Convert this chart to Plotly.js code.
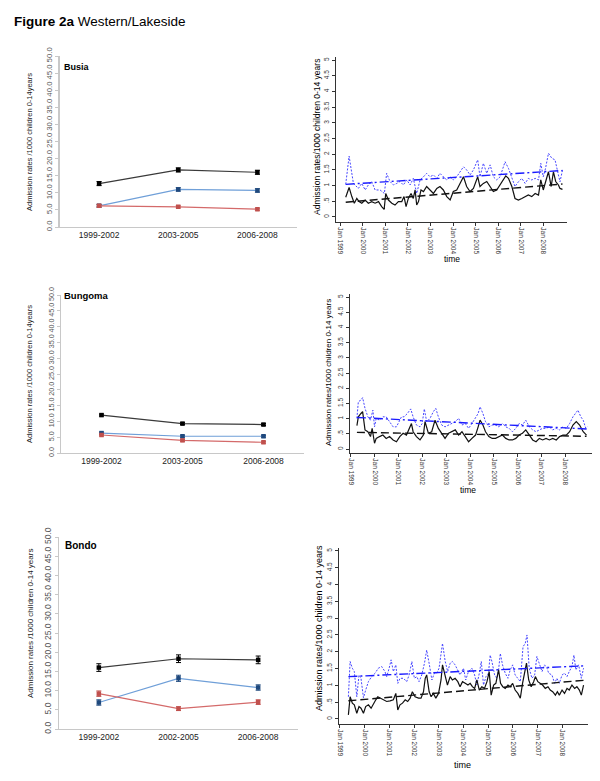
<!DOCTYPE html>
<html>
<head>
<meta charset="utf-8">
<script src="https://cdn.plot.ly/plotly-3.0.1.min.js"></script>
<style>html,body{margin:0;padding:0;background:#fff}#chart{width:600px;height:781px}</style>
</head>
<body>
<div id="chart"></div>
<script>
// ---------- period panels (left) ----------
const periodsA = ["1999-2002", "2003-2005", "2006-2008"];
const periodsBondo = ["1999-2002", "2002-2005", "2006-2008"];

const busiaBlack = [12.7, 16.7, 16.0];
const busiaBlackErr = [0.6, 0.6, 0.6];
const busiaBlue = [6.2, 11.0, 10.7];
const busiaBlueErr = [0.4, 0.5, 0.5];
const busiaRed = [6.2, 5.9, 5.2];
const busiaRedErr = [0.3, 0.3, 0.3];

const bungomaBlack = [12.0, 9.3, 9.0];
const bungomaBlackErr = [0.3, 0.3, 0.3];
const bungomaBlue = [6.3, 5.3, 5.3];
const bungomaBlueErr = [0.3, 0.3, 0.3];
const bungomaRed = [5.7, 4.0, 3.4];
const bungomaRedErr = [0.3, 0.3, 0.3];

const bondoBlack = [16.0, 18.3, 18.0];
const bondoBlackErr = [1.0, 1.0, 1.0];
const bondoBlue = [6.9, 13.2, 10.8];
const bondoBlueErr = [0.7, 0.8, 0.7];
const bondoRed = [9.2, 5.3, 7.0];
const bondoRedErr = [0.7, 0.5, 0.6];

// ---------- monthly time series (right), x in decimal years ----------
const busiaBlackT = [1999.25,1999.40,1999.52,1999.63,1999.74,1999.84,1999.96,2000.11,2000.25,2000.40,2000.55,2000.70,2000.84,2000.95,2001.02,2001.14,2001.29,2001.43,2001.58,2001.73,2001.83,2001.92,2002.02,2002.14,2002.24,2002.32,2002.39,2002.47,2002.58,2002.69,2002.83,2002.98,2003.13,2003.28,2003.42,2003.57,2003.72,2003.87,2004.01,2004.16,2004.31,2004.46,2004.60,2004.75,2004.90,2005.09,2005.19,2005.34,2005.49,2005.64,2005.78,2005.93,2006.08,2006.23,2006.33,2006.45,2006.60,2006.74,2006.89,2007.04,2007.19,2007.33,2007.48,2007.63,2007.78,2007.88,2007.99,2008.09,2008.22,2008.34,2008.44,2008.54,2008.66,2008.73,2008.84];
const busiaBlackV = [0.63,0.94,0.65,0.44,0.59,0.49,0.44,0.54,0.44,0.49,0.44,0.49,0.33,0.24,0.75,0.54,0.44,0.38,0.49,0.49,0.65,0.33,0.59,0.75,0.59,0.86,0.38,0.49,0.86,0.81,0.97,0.86,0.75,0.91,0.97,0.86,0.65,0.54,0.81,0.86,1.07,1.28,0.97,0.81,0.91,1.28,0.97,1.07,1.13,0.97,0.81,0.86,1.02,1.18,1.31,1.23,0.97,0.59,0.54,0.59,0.65,0.70,0.65,0.75,0.70,1.18,0.86,1.13,1.44,0.97,1.44,1.13,1.02,0.91,0.88];
const busiaBlueT = [1999.25,1999.40,1999.59,1999.81,1999.96,2000.11,2000.25,2000.40,2000.55,2000.77,2000.96,2001.06,2001.21,2001.36,2001.51,2001.65,2001.80,2001.95,2002.10,2002.24,2002.39,2002.54,2002.69,2002.83,2002.98,2003.13,2003.28,2003.42,2003.57,2003.72,2003.87,2004.01,2004.16,2004.31,2004.46,2004.60,2004.75,2004.90,2005.09,2005.19,2005.34,2005.49,2005.64,2005.78,2005.93,2006.08,2006.30,2006.45,2006.60,2006.74,2006.89,2007.04,2007.19,2007.33,2007.48,2007.63,2007.78,2007.88,2007.99,2008.09,2008.22,2008.37,2008.51,2008.66,2008.73,2008.84];
const busiaBlueV = [1.04,1.94,1.07,0.91,1.07,0.86,1.02,1.13,0.86,0.86,0.75,1.39,1.13,1.02,1.07,1.13,1.02,1.18,1.02,1.23,0.75,1.18,1.28,1.39,1.28,1.34,1.23,1.39,1.28,1.18,1.28,1.18,1.28,1.44,1.60,1.50,1.34,1.50,1.82,1.28,1.71,1.39,1.66,1.28,1.18,1.28,1.76,1.55,1.28,0.97,1.12,1.23,1.07,1.23,1.18,1.23,1.18,1.71,1.28,1.55,2.03,1.87,1.82,1.39,1.12,1.49];
const busiaTrendBlack = [0.47, 1.05];
const busiaTrendBlue = [1.04, 1.48];

const bungomaBlackT = [1999.25,1999.31,1999.42,1999.49,1999.59,1999.71,1999.82,1999.89,1999.99,2000.06,2000.20,2000.34,2000.48,2000.62,2000.77,2000.91,2001.05,2001.19,2001.33,2001.47,2001.54,2001.61,2001.75,2001.90,2002.04,2002.11,2002.25,2002.39,2002.53,2002.67,2002.81,2002.95,2003.10,2003.24,2003.38,2003.52,2003.66,2003.80,2003.94,2004.08,2004.23,2004.34,2004.42,2004.54,2004.65,2004.79,2004.93,2005.07,2005.21,2005.36,2005.50,2005.64,2005.78,2005.92,2006.06,2006.20,2006.34,2006.49,2006.63,2006.77,2006.91,2007.05,2007.19,2007.33,2007.47,2007.62,2007.76,2007.90,2008.04,2008.18,2008.32,2008.46,2008.60,2008.75,2008.89];
const bungomaBlackV = [0.77,1.06,1.17,1.23,0.63,0.57,0.41,0.68,0.19,0.35,0.41,0.46,0.35,0.41,0.30,0.24,0.41,0.52,0.46,0.68,0.84,0.57,0.41,0.30,0.46,0.90,0.52,0.57,0.95,0.68,0.52,0.35,0.52,0.57,0.63,0.46,0.57,0.41,0.24,0.35,0.46,0.73,0.95,0.79,0.57,0.41,0.35,0.35,0.41,0.46,0.35,0.30,0.30,0.35,0.46,0.52,0.63,0.46,0.30,0.24,0.35,0.30,0.35,0.30,0.35,0.30,0.41,0.46,0.46,0.57,0.79,0.90,0.79,0.57,0.46];
const bungomaBlueT = [1999.25,1999.31,1999.42,1999.49,1999.59,1999.71,1999.82,1999.92,1999.99,2000.06,2000.20,2000.34,2000.48,2000.62,2000.77,2000.91,2001.01,2001.12,2001.23,2001.37,2001.51,2001.61,2001.75,2001.90,2001.99,2002.08,2002.18,2002.32,2002.46,2002.56,2002.67,2002.81,2002.95,2003.10,2003.24,2003.38,2003.52,2003.66,2003.80,2003.94,2004.08,2004.23,2004.34,2004.42,2004.54,2004.65,2004.79,2004.93,2005.07,2005.21,2005.36,2005.50,2005.64,2005.78,2005.92,2006.06,2006.20,2006.34,2006.49,2006.63,2006.77,2006.91,2007.05,2007.19,2007.33,2007.47,2007.62,2007.76,2007.90,2008.04,2008.18,2008.32,2008.46,2008.53,2008.65,2008.75,2008.86,2008.92];
const bungomaBlueV = [1.01,1.56,1.61,1.69,1.34,1.06,0.95,1.28,0.73,1.01,0.95,1.06,1.06,0.90,0.73,0.73,0.90,1.06,1.06,1.17,1.32,1.06,0.79,0.73,0.84,1.32,0.90,1.01,1.23,1.34,1.06,0.79,0.73,0.79,0.84,0.90,1.01,0.79,0.84,0.68,0.84,1.01,1.17,1.39,1.17,0.90,0.73,0.79,0.79,0.73,0.84,0.73,0.68,0.57,0.68,0.84,0.79,0.95,0.73,0.63,0.57,0.63,0.68,0.68,0.73,0.63,0.68,0.63,0.73,0.68,0.84,1.06,1.23,1.28,1.06,0.95,0.68,0.73];
const bungomaTrendBlack = [0.55, 0.42];
const bungomaTrendBlue = [1.04, 0.66];

const bondoBlackT = [1999.34,1999.41,1999.50,1999.58,1999.68,1999.77,1999.85,1999.95,2000.04,2000.15,2000.26,2000.35,2000.45,2000.53,2000.62,2000.76,2000.89,2001.03,2001.16,2001.26,2001.34,2001.43,2001.53,2001.64,2001.74,2001.84,2001.93,2002.04,2002.18,2002.28,2002.38,2002.45,2002.51,2002.61,2002.69,2002.78,2002.88,2002.99,2003.09,2003.15,2003.26,2003.35,2003.46,2003.55,2003.66,2003.77,2003.86,2003.96,2004.07,2004.18,2004.27,2004.36,2004.45,2004.54,2004.64,2004.74,2004.85,2004.95,2005.04,2005.12,2005.22,2005.31,2005.42,2005.50,2005.59,2005.69,2005.80,2005.89,2005.99,2006.09,2006.20,2006.30,2006.39,2006.47,2006.55,2006.64,2006.74,2006.84,2006.91,2007.01,2007.11,2007.20,2007.31,2007.42,2007.51,2007.61,2007.72,2007.80,2007.88,2007.99,2008.09,2008.19,2008.28,2008.39,2008.50,2008.59,2008.69,2008.77,2008.86];
const bondoBlackV = [0.12,0.66,0.47,0.42,0.17,0.37,0.32,0.17,0.37,0.42,0.32,0.42,0.57,0.66,0.62,0.57,0.52,0.54,0.57,0.76,0.27,0.42,0.47,0.57,0.52,0.62,0.81,0.66,0.62,0.62,0.81,1.21,1.31,0.81,0.66,0.76,0.62,0.76,1.16,1.61,1.31,1.01,1.26,1.16,1.21,1.11,0.96,1.11,1.06,1.01,1.06,0.96,0.91,1.16,0.86,0.96,0.91,1.11,1.41,0.71,1.01,1.06,1.46,1.06,0.96,0.91,1.01,0.96,1.06,0.86,0.76,0.62,1.06,1.36,1.66,1.16,0.96,1.11,1.26,1.11,1.06,1.01,0.91,0.96,0.86,0.81,0.71,0.81,0.71,0.86,0.76,0.91,0.86,1.01,0.91,0.96,0.86,0.71,1.01];
const bondoBlueT = [1999.34,1999.41,1999.50,1999.58,1999.68,1999.77,1999.85,1999.95,2000.04,2000.15,2000.28,2000.42,2000.55,2000.69,2000.82,2000.89,2000.99,2001.07,2001.16,2001.26,2001.34,2001.43,2001.57,2001.70,2001.80,2001.91,2002.01,2002.11,2002.20,2002.31,2002.42,2002.51,2002.62,2002.72,2002.82,2002.92,2003.01,2003.09,2003.15,2003.26,2003.36,2003.46,2003.55,2003.66,2003.77,2003.86,2004.00,2004.09,2004.20,2004.34,2004.45,2004.54,2004.64,2004.72,2004.81,2004.91,2005.01,2005.08,2005.15,2005.26,2005.35,2005.42,2005.49,2005.58,2005.69,2005.80,2005.89,2005.99,2006.09,2006.20,2006.30,2006.41,2006.50,2006.57,2006.66,2006.77,2006.88,2006.97,2007.07,2007.18,2007.28,2007.38,2007.45,2007.58,2007.69,2007.78,2007.88,2007.99,2008.09,2008.19,2008.28,2008.39,2008.47,2008.55,2008.66,2008.77,2008.86];
const bondoBlueV = [0.66,1.71,1.51,1.41,0.66,1.31,1.21,0.63,0.86,1.11,1.26,1.36,1.51,1.56,1.41,1.26,1.51,1.76,1.41,1.61,1.06,1.21,1.21,1.11,1.31,1.71,1.21,1.26,1.11,1.31,1.66,2.05,1.61,1.16,1.36,1.36,1.51,1.86,2.25,1.71,1.41,1.66,1.71,1.61,1.46,1.31,1.51,1.16,1.41,1.51,1.31,1.01,1.36,1.71,1.01,1.26,1.36,1.90,1.71,1.31,1.21,1.46,1.95,1.61,1.36,1.21,1.46,1.61,1.31,1.21,1.11,2.15,2.25,2.50,1.51,1.21,1.31,1.86,1.66,1.41,1.61,1.51,1.36,1.31,1.06,1.21,1.06,1.31,1.36,1.26,1.41,1.56,1.90,1.46,1.61,1.21,1.51];
const bondoTrendBlack = [0.54, 1.15];
const bondoTrendBlue = [1.26, 1.58];

const yearTicks = [1999,2000,2001,2002,2003,2004,2005,2006,2007,2008];
const yearTickText = ["Jan 1999","Jan 2000","Jan 2001","Jan 2002","Jan 2003","Jan 2004","Jan 2005","Jan 2006","Jan 2007","Jan 2008"];
const rateTicks = [0,0.5,1,1.5,2,2.5,3,3.5,4,4.5,5];
const rateTickText = ["0",".5","1","1.5","2","2.5","3","3.5","4","4.5","5"];

// ---------- helpers ----------
const W = 600, H = 781;
const fx = p => p / W;
const fy = p => 1 - p / H;
const FONT = "Liberation Sans, Arial, sans-serif";

function periodTraces(cats, series, ax) {
  const styles = [
    {line: "#3a3a3a", mk: "#000000"},
    {line: "#6f9fd8", mk: "#1f497d"},
    {line: "#d46a6a", mk: "#c0504d"}
  ];
  return series.map((s, i) => ({
    type: "scatter", mode: "lines+markers",
    x: cats, y: s.v, xaxis: "x" + ax, yaxis: "y" + ax,
    line: {color: styles[i].line, width: 1.2},
    marker: {symbol: "square", size: 4.5, color: styles[i].mk},
    error_y: {type: "data", array: s.e, visible: true, color: styles[i].mk, thickness: 1, width: 2.5},
    hoverinfo: "skip"
  }));
}

function seriesTraces(bt, bv, ut, uv, trB, trU, ax) {
  const xa = "x" + ax, ya = "y" + ax;
  return [
    {type: "scatter", mode: "lines", x: ut, y: uv, xaxis: xa, yaxis: ya,
     line: {color: "#4646ff", width: 1, dash: "2px,1.5px"}},
    {type: "scatter", mode: "lines", x: bt, y: bv, xaxis: xa, yaxis: ya,
     line: {color: "#111111", width: 1.2}},
    {type: "scatter", mode: "lines", x: [bt[0], bt[bt.length - 1]], y: trB, xaxis: xa, yaxis: ya,
     line: {color: "#111111", width: 1.4, dash: "8px,4px"}},
    {type: "scatter", mode: "lines", x: [ut[0], ut[ut.length - 1]], y: trU, xaxis: xa, yaxis: ya,
     line: {color: "#1a1aff", width: 1.4, dash: "9px,3px,2px,3px"}}
  ];
}

const traces = [].concat(
  periodTraces(periodsA, [{v: busiaBlack, e: busiaBlackErr}, {v: busiaBlue, e: busiaBlueErr}, {v: busiaRed, e: busiaRedErr}], ""),
  seriesTraces(busiaBlackT, busiaBlackV, busiaBlueT, busiaBlueV, busiaTrendBlack, busiaTrendBlue, "2"),
  periodTraces(periodsA, [{v: bungomaBlack, e: bungomaBlackErr}, {v: bungomaBlue, e: bungomaBlueErr}, {v: bungomaRed, e: bungomaRedErr}], "3"),
  seriesTraces(bungomaBlackT, bungomaBlackV, bungomaBlueT, bungomaBlueV, bungomaTrendBlack, bungomaTrendBlue, "4"),
  periodTraces(periodsBondo, [{v: bondoBlack, e: bondoBlackErr}, {v: bondoBlue, e: bondoBlueErr}, {v: bondoRed, e: bondoRedErr}], "5"),
  seriesTraces(bondoBlackT, bondoBlackV, bondoBlueT, bondoBlueV, bondoTrendBlack, bondoTrendBlue, "6")
);

function leftX(x0, x1, anchor) {
  return {domain: [fx(x0), fx(x1)], anchor: anchor, type: "category", range: [-0.5, 2.5],
    showline: true, linecolor: "#c8c8c8", linewidth: 1.2, showgrid: false, zeroline: false,
    ticks: "", tickfont: {family: FONT, size: 8.5, color: "#222"}, fixedrange: true};
}
function leftY(y0, y1, anchor, fs) {
  return {domain: [fy(y0), fy(y1)], anchor: anchor, range: [0, 50], dtick: 5, tick0: 0, tickformat: ".1f",
    showline: true, linecolor: "#c8c8c8", linewidth: 1.2, showgrid: false, zeroline: false,
    ticks: "outside", ticklen: 3, tickcolor: "#c8c8c8", tickangle: -90,
    tickfont: {family: FONT, size: fs, color: "#555"}, fixedrange: true};
}
function rightX(x0, x1, r, anchor) {
  return {domain: [fx(x0), fx(x1)], anchor: anchor, range: r,
    tickvals: yearTicks, ticktext: yearTickText, tickangle: 90,
    showline: true, linecolor: "#333", linewidth: 1, showgrid: false, zeroline: false,
    ticks: "outside", ticklen: 3, tickcolor: "#333",
    tickfont: {family: FONT, size: 6.5, color: "#333"}, fixedrange: true};
}
function rightY(y0, y1, r, anchor) {
  return {domain: [fy(y0), fy(y1)], anchor: anchor, range: r,
    tickvals: rateTicks, ticktext: rateTickText, tickangle: -90,
    showline: true, linecolor: "#333", linewidth: 1, showgrid: false, zeroline: false,
    ticks: "outside", ticklen: 3, tickcolor: "#333",
    tickfont: {family: FONT, size: 6.5, color: "#333"}, fixedrange: true};
}

function ann(text, x, y, size, opts) {
  return Object.assign({text: text, x: fx(x), y: fy(y), xref: "paper", yref: "paper",
    xanchor: "center", yanchor: "middle",
    showarrow: false, font: {family: FONT, size: size, color: "#000"}}, opts || {});
}

const layout = {
  width: W, height: H, margin: {l: 0, r: 0, t: 0, b: 0},
  paper_bgcolor: "#fff", plot_bgcolor: "rgba(0,0,0,0)", showlegend: false,
  xaxis: leftX(59.5, 297, "y"), yaxis: leftY(227, 56, "x", 7.8),
  xaxis2: rightX(336, 567, [1998.82, 2009.04], "y2"), yaxis2: rightY(222, 56.9, [-0.16, 5.1], "x2"),
  xaxis3: leftX(61, 304, "y3"), yaxis3: leftY(453, 295, "x3", 7.2),
  xaxis4: rightX(350, 592, [1998.96, 2009.12], "y4"), yaxis4: rightY(453, 294, [-0.13, 5.1], "x4"),
  xaxis5: leftX(59, 298, "y5"), yaxis5: leftY(729, 537, "x5", 8.5),
  xaxis6: rightX(339, 588, [1998.96, 2009.04], "y6"), yaxis6: rightY(724, 547.6, [-0.15, 5.1], "x6"),
  annotations: [
    ann("<b>Figure 2a</b> Western/Lakeside", 12, 22, 13.5, {xanchor: "left"}),
    ann("<b>Busia</b>", 62, 67, 9, {xanchor: "left"}),
    ann("<b>Bungoma</b>", 62, 295, 9.5, {xanchor: "left"}),
    ann("<b>Bondo</b>", 63, 545, 10, {xanchor: "left"}),
    ann("Admission rates /1000 children 0-14years", 29, 142, 7.5, {textangle: -90, font: {family: FONT, size: 7.5, color: "#222"}}),
    ann("Admission rates /1000 children 0-14years", 29, 374, 7.5, {textangle: -90, font: {family: FONT, size: 7.5, color: "#222"}}),
    ann("Admission rates /1000 children 0-14 years", 30, 624, 8, {textangle: -90, font: {family: FONT, size: 8, color: "#222"}}),
    ann("Admission rates/1000 children 0-14 years", 317, 137, 8.5, {textangle: -90}),
    ann("Admission rates/1000 children 0-14 years", 328, 373, 8, {textangle: -90}),
    ann("Admission rates/1000 children 0-14 years", 319, 628, 9, {textangle: -90}),
    ann("time", 452, 259, 8.5),
    ann("time", 468, 490, 8.5),
    ann("time", 463, 765, 9)
  ]
};

Plotly.newPlot("chart", traces, layout, {staticPlot: true, displayModeBar: false});
</script>
</body>
</html>
